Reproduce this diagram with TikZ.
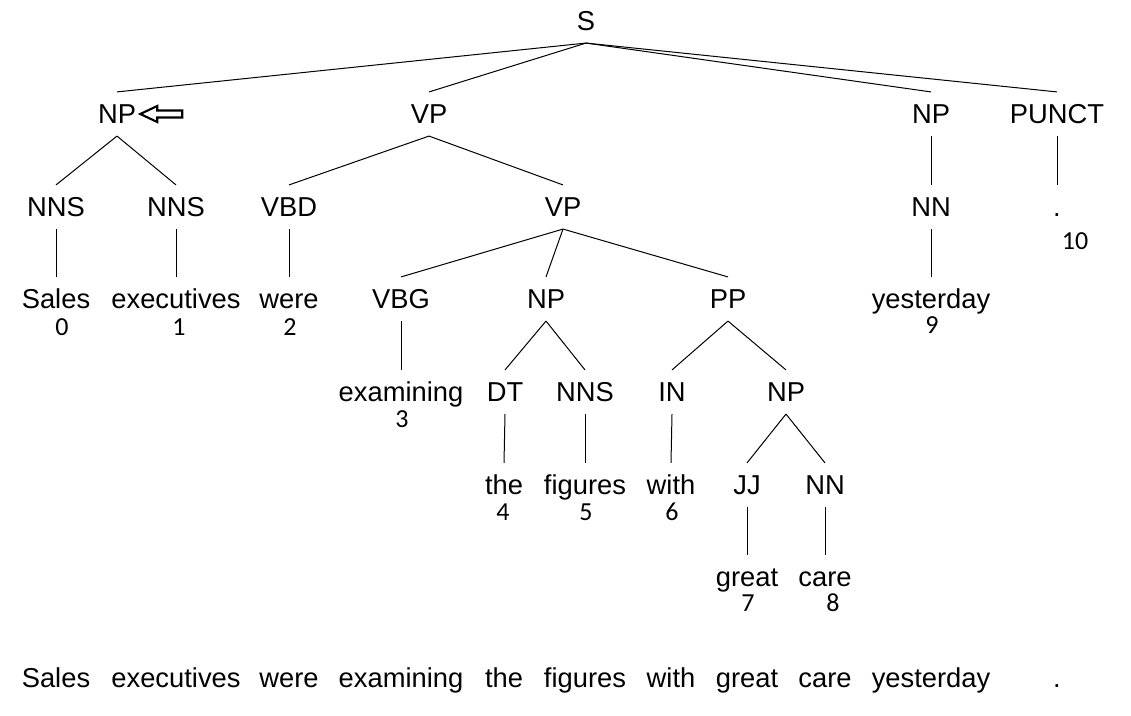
\documentclass[tikz,border=0pt]{standalone}
\usepackage{fontspec}
\setmainfont{Liberation Sans}
\newfontfamily\idxfont{Carlito}
\begin{document}
\begin{tikzpicture}[x=0.75pt,y=-0.75pt,
  lab/.style={font=\fontsize{20.5}{24}\selectfont, text height=14.7pt, text depth=0pt, inner xsep=0pt, inner ysep=9pt},
  idx/.style={font=\idxfont\fontsize{19.5}{22}\selectfont, inner sep=0pt},
  edge/.style={line width=0.75pt},
  hollowarrow/.style={line width=1.6pt, line join=miter}]
\useasboundingbox (0,0) rectangle (1131,716);
% level 0
\node[lab] (S) at (586,21) {S};
% level 1
\node[lab] (NPa) at (117,114) {NP};
\node[lab] (VPa) at (429,114) {VP};
\node[lab] (NPb) at (931,114) {NP};
\node[lab] (PU) at (1057,114) {PUNCT};
% level 2
\node[lab] (NNSa) at (56,207) {NNS};
\node[lab] (NNSb) at (176,207) {NNS};
\node[lab] (VBD) at (289,207) {VBD};
\node[lab] (VPb) at (563,207) {VP};
\node[lab] (NNa) at (931,207) {NN};
\node[lab] (dot) at (1057,207) {.};
% level 3
\node[lab] (wSales) at (56,299) {Sales};
\node[lab] (wexec) at (176,299) {executives};
\node[lab] (wwere) at (289,299) {were};
\node[lab] (VBG) at (401,299) {VBG};
\node[lab] (NPc) at (546,299) {NP};
\node[lab] (PP) at (728,299) {PP};
\node[lab] (wyest) at (931,299) {yesterday};
% level 4
\node[lab] (wexam) at (401,392) {examining};
\node[lab] (DT) at (505,392) {DT};
\node[lab] (NNSc) at (585,392) {NNS};
\node[lab] (IN) at (672,392) {IN};
\node[lab] (NPd) at (786,392) {NP};
% level 5
\node[lab] (wthe) at (504,485) {the};
\node[lab] (wfig) at (585,485) {figures};
\node[lab] (wwith) at (671,485) {with};
\node[lab] (JJ) at (747,485) {JJ};
\node[lab] (NNb) at (825,485) {NN};
% level 6
\node[lab] (wgreat) at (747,577) {great};
\node[lab] (wcare) at (825,577) {care};
% indices
\node[idx] (i0) at (62,327) {0};
\node[idx] (i1) at (179,327) {1};
\node[idx] (i2) at (290,327) {2};
\node[idx] (i3) at (402,419) {3};
\node[idx] (i4) at (503,512) {4};
\node[idx] (i5) at (586,512) {5};
\node[idx] (i6) at (672,512) {6};
\node[idx] (i7) at (748,603) {7};
\node[idx] (i8) at (833,603) {8};
\node[idx] (i9) at (932,325) {9};
\node[idx] (i10) at (1075,241) {10};
% sentence
\node[lab] (s0) at (56,678) {Sales};
\node[lab] (s1) at (176,678) {executives};
\node[lab] (s2) at (289,678) {were};
\node[lab] (s3) at (401,678) {examining};
\node[lab] (s4) at (504,678) {the};
\node[lab] (s5) at (585,678) {figures};
\node[lab] (s6) at (671,678) {with};
\node[lab] (s7) at (747,678) {great};
\node[lab] (s8) at (825,678) {care};
\node[lab] (s9) at (931,678) {yesterday};
\node[lab] (s10) at (1057,678) {.};
% edges
\foreach \a/\b in {S/NPa,S/VPa,S/NPb,S/PU,
  NPa/NNSa,NPa/NNSb,NNSa/wSales,NNSb/wexec,
  VPa/VBD,VPa/VPb,VBD/wwere,
  VPb/VBG,VPb/NPc,VPb/PP,VBG/wexam,
  NPc/DT,NPc/NNSc,DT/wthe,NNSc/wfig,
  PP/IN,PP/NPd,IN/wwith,
  NPd/JJ,NPd/NNb,JJ/wgreat,NNb/wcare,
  NPb/NNa,NNa/wyest,PU/dot}
  \draw[edge] (\a.south) -- (\b.north);
% hollow arrow pointing at NP
\coordinate (arrtip) at ([xshift=3pt]NPa.east);
\draw[hollowarrow] (arrtip) -- ++(17,-8) -- ++(0,4.5) -- ++(25,0) -- ++(0,7) -- ++(-25,0) -- ++(0,4.5) -- cycle;
\end{tikzpicture}
\end{document}
